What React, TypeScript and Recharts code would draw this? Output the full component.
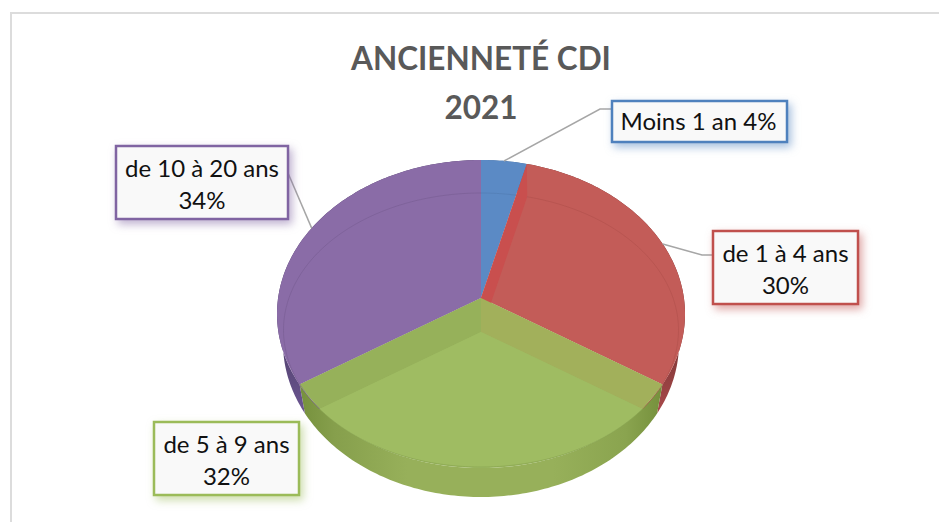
import React from 'react';
import { PieChart, Pie } from 'recharts';

const categories = ['Moins 1 an', 'de 1 à 4 ans', 'de 5 à 9 ans', 'de 10 à 20 ans'];
const shares = [4, 30, 32, 34];
const titleLines = ['ANCIENNETÉ CDI', '2021'];

const topColors = ['#5B8AC5', '#C35C58', '#9DB963', '#8A6CA7'];
const wallColors = ['#3F6494', 'url(#redWall)', 'url(#greenWall)', 'url(#purpleWall)'];
const faceColors = ['none', 'none', '#9FBC62', 'none'];
const arcColors = ['#527DB3', '#B3514E', '#8AA551', '#7A5E95'];
const startBands = ['none', '#C94F4E', '#A2B05B', 'none'];
const endBands = ['none', 'none', '#96B15A', 'none'];
const borderColors = ['#4F81BD', '#C0504D', '#9BBB59', '#8064A2'];
const shadowColors = ['#4F81BD80', '#C0504D80', '#9BBB5980', '#8064A280'];

// label boxes: x, y, w, h, then where the leader line enters the box
const labelBoxes = [
  { x: 612, y: 101, w: 175, h: 41, elbow: [600, 109], end: [612, 109] },
  { x: 713, y: 231, w: 145, h: 73, elbow: [702, 255], end: [713, 255] },
  { x: 154, y: 422, w: 145, h: 73 },
  { x: 116, y: 146, w: 172, h: 73, elbow: [288, 173], end: [288, 173] },
];

const CX = 481;
const RIM_CY = 314;
const RX = 204;
const SQUASH = 154 / 204;
const DEPTH = 29;
const BOTTOM_RX = 198;
const TILT = -16 / 154; // the apex sits above the rim ellipse centre, perspective
const INNER = { cx: 481, cy: 330, rx: 197.5, ry: 137, apexY: 332 };

// rim point for a recharts angle, a circle seen in perspective
const rimPoint = (deg: number, cy = RIM_CY, rx = RX) => {
  const t = ((90 - deg) * Math.PI) / 180;
  const u = Math.sin(t);
  const v = -Math.cos(t);
  const w = 1 + TILT * v;
  return [CX + (rx * u * Math.sqrt(1 - TILT * TILT)) / w, cy + (RX * SQUASH * (v + TILT)) / w];
};

// same direction as the top edge, but from the lower apex to the inner ellipse
const innerPoint = (deg: number) => {
  const [px, py] = rimPoint(deg);
  const apexTop = RIM_CY + TILT * RX * SQUASH;
  const dx = px - CX;
  const dy = py - apexTop;
  const oy = INNER.apexY - INNER.cy;
  const a = (dx * dx) / (INNER.rx * INNER.rx) + (dy * dy) / (INNER.ry * INNER.ry);
  const b = (2 * oy * dy) / (INNER.ry * INNER.ry);
  const c = (oy * oy) / (INNER.ry * INNER.ry) - 1;
  const s = (-b + Math.sqrt(b * b - 4 * a * c)) / (2 * a);
  return [INNER.cx + dx * s, INNER.apexY + dy * s];
};

const sweep = (start: number, end: number, fn: (d: number) => number[]) => {
  const pts: number[][] = [];
  const steps = Math.max(2, Math.ceil(Math.abs(end - start)));
  for (let i = 0; i <= steps; i++) pts.push(fn(start + ((end - start) * i) / steps));
  return pts;
};

const toPath = (pts: number[][], close = true) =>
  pts.map((p, i) => `${i ? 'L' : 'M'}${p[0].toFixed(2)} ${p[1].toFixed(2)}`).join(' ') + (close ? ' Z' : '');

const apexTop = [CX, RIM_CY + TILT * RX * SQUASH];
const apexLow = [CX, INNER.apexY];

const WallShape = (props: any) => {
  const top = sweep(props.startAngle, props.endAngle, (d) => rimPoint(d));
  const low = sweep(props.startAngle, props.endAngle, (d) => rimPoint(d, RIM_CY + DEPTH, BOTTOM_RX)).reverse();
  return (
    <g>
      <defs>
        <linearGradient id="greenWall" gradientUnits="userSpaceOnUse" x1={298} x2={662} y1={0} y2={0}>
          <stop offset="0" stopColor="#75903C" />
          <stop offset="0.1" stopColor="#869F4C" />
          <stop offset="0.3" stopColor="#97B05A" />
          <stop offset="0.7" stopColor="#97B05A" />
          <stop offset="0.9" stopColor="#8AA44F" />
          <stop offset="1" stopColor="#75903C" />
        </linearGradient>
        <linearGradient id="purpleWall" gradientUnits="userSpaceOnUse" x1={0} x2={0} y1={320} y2={410}>
          <stop offset="0" stopColor="#4A3A62" />
          <stop offset="1" stopColor="#6A5590" />
        </linearGradient>
        <linearGradient id="redWall" gradientUnits="userSpaceOnUse" x1={0} x2={0} y1={320} y2={410}>
          <stop offset="0" stopColor="#6E2F2E" />
          <stop offset="1" stopColor="#A8494A" />
        </linearGradient>
      </defs>
      <path d={toPath([...top, ...low])} fill={wallColors[props.index ?? 0]} />
    </g>
  );
};

const TopShape = (props: any) => {
  const arc = sweep(props.startAngle, props.endAngle, (d) => rimPoint(d));
  return <path d={toPath([apexTop, ...arc])} fill={topColors[props.index]} />;
};

const InnerShape = (props: any) => {
  const i = props.index;
  const arc = sweep(props.startAngle, props.endAngle, innerPoint);
  const band = (deg: number, color: string) =>
    color === 'none' ? null : (
      <path d={toPath([apexTop, rimPoint(deg), innerPoint(deg), apexLow])} fill={color} />
    );
  return (
    <g>
      {band(props.startAngle, startBands[i])}
      {band(props.endAngle, endBands[i])}
      <path d={toPath([apexLow, ...arc])} fill={faceColors[i]} />
      <path d={toPath(arc, false)} fill="none" stroke={arcColors[i]} strokeWidth={0.7} />
    </g>
  );
};

const renderLabel = (props: any) => {
  const i = props.index;
  const box = labelBoxes[i];
  const textX = box.x + box.w / 2;
  const style = { fontFamily: 'Lato, sans-serif', fontSize: 24, fill: '#111' };
  const start = rimPoint(props.midAngle);
  return (
    <g key={i}>
      {box.elbow && (
        <polyline
          points={`${start[0]},${start[1]} ${box.elbow[0]},${box.elbow[1]} ${box.end[0]},${box.end[1]}`}
          fill="none"
          stroke="#A6A6A6"
          strokeWidth={1.5}
        />
      )}
      <rect
        x={box.x}
        y={box.y}
        width={box.w}
        height={box.h}
        fill="#F9F9F9"
        stroke={borderColors[i]}
        strokeWidth={2.5}
        style={{ filter: `drop-shadow(3px 4px 4px ${shadowColors[i]})` }}
      />
      {box.h < 50 ? (
        <text x={textX - 1} y={box.y + 29} textAnchor="middle" style={style}>
          {`${props.name} ${props.value}%`}
        </text>
      ) : (
        <>
          <text x={textX} y={box.y + 31} textAnchor="middle" style={style}>
            {props.name}
          </text>
          <text x={textX} y={box.y + 63} textAnchor="middle" style={style}>
            {`${props.value}%`}
          </text>
        </>
      )}
    </g>
  );
};

const chartData = categories.map((name, i) => ({ name, value: shares[i] }));

const pieProps = {
  data: chartData,
  dataKey: 'value',
  nameKey: 'name',
  cx: CX,
  cy: RIM_CY,
  outerRadius: RX,
  startAngle: 90,
  endAngle: -270,
  stroke: 'none',
  isAnimationActive: false,
};

export default function App() {
  return (
    <div style={{ position: 'absolute', left: 0, top: 0, width: 939, height: 522, background: '#fff', overflow: 'hidden' }}>
      <div style={{ position: 'absolute', left: 10, top: 12, right: 0, bottom: 0, borderLeft: '2px solid #DCDCDC', borderTop: '2px solid #DCDCDC' }} />
      <PieChart width={939} height={522} margin={{ top: 0, right: 0, bottom: 0, left: 0 }} style={{ position: 'absolute', left: 0, top: 0 }}>
        <Pie {...pieProps} shape={WallShape} inactiveShape={WallShape} />
        <Pie {...pieProps} shape={TopShape} inactiveShape={TopShape} />
        <Pie {...pieProps} shape={InnerShape} inactiveShape={InnerShape} label={renderLabel} labelLine={false} />
      </PieChart>
      {titleLines.map((line, i) => (
        <div
          key={line}
          style={{
            position: 'absolute',
            left: 0,
            width: 962,
            top: 38 + i * 49,
            textAlign: 'center',
            fontFamily: 'Lato, sans-serif',
            fontWeight: 700,
            fontSize: 31.5,
            lineHeight: '40px',
            color: '#595959',
          }}
        >
          {line}
        </div>
      ))}
    </div>
  );
}
